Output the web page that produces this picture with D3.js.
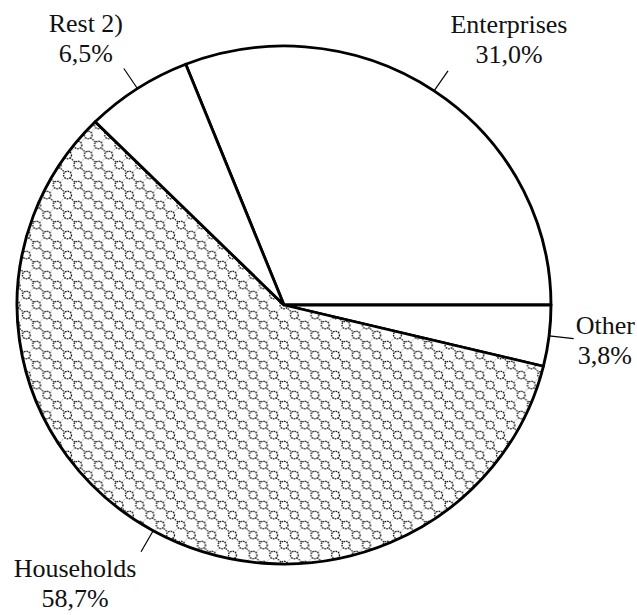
<!DOCTYPE html>
<html>
<head>
<meta charset="utf-8">
<script src="https://cdn.jsdelivr.net/npm/d3@7"></script>
<style>
  body { margin: 0; background: #fff; }
  text { font-family: "Liberation Serif", "DejaVu Serif", "Times New Roman", Times, serif; font-size: 26px; fill: #111; }
</style>
</head>
<body>
<div id="chart"></div>
<script>
var width  = 637;
var height = 615;

// data (clockwise from the Rest/Enterprises edge)
var categories = ["Enterprises", "Other", "Households", "Rest 2)"];
var shares     = [31.0, 3.8, 58.7, 6.5];
var shareLabels = ["31,0%", "3,8%", "58,7%", "6,5%"];

// label placement, in px, relative to the end of each leader line
var labelOffset = [
  {dx: 61,  dy: -38, anchor: "middle"},
  {dx: 2,   dy: -5,  anchor: "start"},
  {dx: -66, dy: 25,  anchor: "middle"},
  {dx: -38, dy: -36, anchor: "middle"}
];

var cx = 284, cy = 305;
var radius = 259;
var stretchX = 267 / 259;   // the scanned pie is a little wider than tall

var svg = d3.select("#chart").append("svg")
  .attr("width", width)
  .attr("height", height);

// hatch pattern for Households: diamond lattice of small rings
var defs = svg.append("defs");
var pat = defs.append("pattern")
  .attr("id", "rings")
  .attr("patternUnits", "userSpaceOnUse")
  .attr("width", 20)
  .attr("height", 20);
pat.append("rect").attr("width", 20).attr("height", 20).attr("fill", "#fff");
pat.append("path")
  .attr("d", "M0,0L20,20")
  .attr("stroke", "#222").attr("stroke-width", 1.3)
  .attr("stroke-dasharray", "1.5,1");
pat.append("path")
  .attr("d", "M20,0L0,20")
  .attr("stroke", "#666").attr("stroke-width", 0.9)
  .attr("stroke-dasharray", "1,1.5");
[[0,0],[20,0],[0,20],[20,20],[10,10]].forEach(function(p) {
  pat.append("circle")
    .attr("cx", p[0]).attr("cy", p[1]).attr("r", 3.8)
    .attr("fill", "#fff")
    .attr("stroke", "#111").attr("stroke-width", 1.3)
    .attr("stroke-dasharray", "1.6,0.9");
});

var fills = ["#fff", "#fff", "url(#rings)", "#fff"];

// Enterprises ends on the horizontal radius to the right
var startAngle = (90 - shares[0] / 100 * 360) * Math.PI / 180;

var pie = d3.pie()
  .sort(null)
  .value(function(d) { return d; })
  .startAngle(startAngle)
  .endAngle(startAngle + 2 * Math.PI);

var arcs = pie(shares);
var arc = d3.arc().innerRadius(0).outerRadius(radius);

var g = svg.append("g")
  .attr("transform", "translate(" + cx + "," + cy + ") scale(" + stretchX + ",1)");

g.selectAll("path.slice")
  .data(arcs)
  .enter().append("path")
  .attr("class", "slice")
  .attr("d", arc)
  .attr("fill", function(d, i) { return fills[i]; })
  .attr("stroke", "#000")
  .attr("stroke-width", 2.8)
  .attr("stroke-linejoin", "round");

function polar(a, r) {
  return [cx + Math.sin(a) * r * stretchX, cy - Math.cos(a) * r];
}

var labels = svg.append("g");
arcs.forEach(function(d, i) {
  var mid = (d.startAngle + d.endAngle) / 2;
  var p0 = polar(mid, radius);
  var p1 = polar(mid, radius + 24);
  labels.append("line")
    .attr("x1", p0[0]).attr("y1", p0[1])
    .attr("x2", p1[0]).attr("y2", p1[1])
    .attr("stroke", "#000").attr("stroke-width", 1.2);

  var o = labelOffset[i];
  var t = labels.append("text")
    .attr("x", p1[0] + o.dx)
    .attr("y", p1[1] + o.dy)
    .attr("text-anchor", o.anchor);
  t.append("tspan").attr("x", p1[0] + o.dx).text(categories[i]);
  t.append("tspan").attr("x", p1[0] + o.dx + (o.anchor === "start" ? 2 : 0))
    .attr("dy", 30).text(shareLabels[i]);
});
</script>
</body>
</html>
